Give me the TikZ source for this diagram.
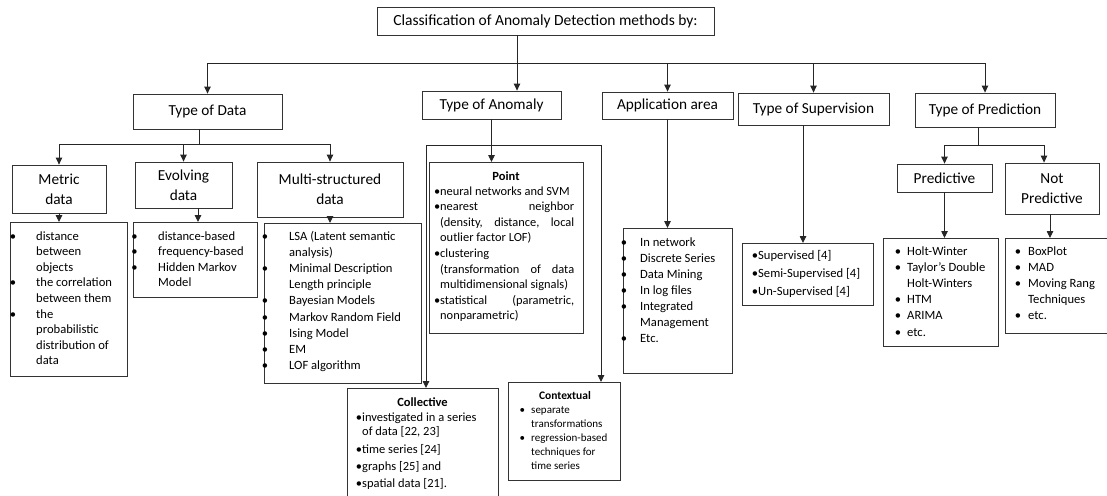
\documentclass[tikz,border=0pt]{standalone}
\usepackage{fontspec}
\setmainfont{Carlito}
\usetikzlibrary{arrows.meta}
\newlength\bgap
\newcommand\itm[1]{\par\noindent\llap{\textbullet\hspace*{\bgap}}#1}
\newcommand\lfont{\fontsize{12.6}{15.6}\selectfont}
\tikzset{
  box/.style={draw=black!80, line width=0.8pt, inner sep=0pt, align=center, font=\fontsize{15.3}{20}\selectfont},
  lbox/.style={draw=black!80, line width=0.8pt, inner sep=0pt, anchor=north west},
  ltext/.style={inner sep=0pt, anchor=base west},
  head/.style={inner sep=0pt, anchor=base, font=\bfseries\fontsize{12.5}{15}\selectfont},
  con/.style={line width=0.9pt, draw=black!85},
  arr/.style={con, -{Triangle[length=7pt,width=6.5pt]}},
}
\begin{document}
\begin{tikzpicture}[x=1pt,y=-1pt]
\useasboundingbox (0,0) rectangle (1107,495);
% level 0
\node[box, font=\fontsize{15.5}{20}\selectfont, minimum width=337pt, minimum height=28pt] (title) at (545.5,21) {Classification of Anomaly Detection methods by:};
% level 1
\node[box, minimum width=149pt, minimum height=35pt] (tdata) at (207.5,111.5) {Type of Data};
\node[box, minimum width=139pt, minimum height=28pt] (tanom) at (491.5,105) {Type of Anomaly};
\node[box, minimum width=131pt, minimum height=27pt] (tapp) at (667.5,105.5) {Application area};
\node[box, minimum width=151pt, minimum height=32pt] (tsup) at (813.5,109) {Type of Supervision};
\node[box, minimum width=140pt, minimum height=34pt] (tpred) at (985,110) {Type of Prediction};
% level 2
\node[box, minimum width=94pt, minimum height=48pt] (metric) at (59,189) {Metric\\data};
\node[box, minimum width=97pt, minimum height=46pt] (evolv) at (183.5,185) {Evolving\\data};
\node[box, minimum width=146pt, minimum height=55pt] (multi) at (330,189.5) {Multi-structured\\data};
\node[box, minimum width=95pt, minimum height=28pt] (predv) at (944.5,178) {Predictive};
\node[box, minimum width=94pt, minimum height=51pt] (npred) at (1052,188.5) {Not\\Predictive};
% lists
\node[lbox, minimum width=117pt, minimum height=154pt] (mlist) at (10,222) {};
\node[ltext] (mtext) at (36,240) {\parbox[t]{90pt}{\lfont\raggedright\setlength\bgap{20pt}%
\itm{distance\\between\\objects}\itm{the correlation\\between them}\itm{the\\probabilistic\\distribution of\\data}}};

\node[lbox, minimum width=124pt, minimum height=75pt] (elist) at (133,222) {};
\node[ltext] (etext) at (158,240) {\parbox[t]{95pt}{\lfont\raggedright\setlength\bgap{20.5pt}%
\itm{distance-based}\itm{frequency-based}\itm{Hidden Markov\\Model}}};

\node[lbox, minimum width=157pt, minimum height=160pt] (mulist) at (264,223) {};
\node[ltext] (mutext) at (289,240) {\parbox[t]{128pt}{\fontsize{12.6}{16.2}\selectfont\raggedright\setlength\bgap{21pt}%
\itm{LSA (Latent semantic\\analysis)}\itm{Minimal Description\\Length principle}\itm{Bayesian Models}\itm{Markov Random Field}\itm{Ising Model}\itm{EM}\itm{LOF algorithm}}};

\node[lbox, minimum width=154pt, minimum height=171pt] (point) at (429,162) {};
\node[head] (pointh) at (506,180) {Point};
\node[ltext] (ptext) at (440,195) {\parbox[t]{134pt}{\fontsize{12.4}{15.6}\selectfont\setlength\bgap{0pt}%
\itm{neural networks and SVM}\itm{nearest neighbor\linebreak (density, distance, local\linebreak outlier factor LOF)}\itm{clustering\newline (transformation of data\linebreak multidimensional signals)}\itm{statistical (parametric,\linebreak nonparametric)}}};

\node[lbox, minimum width=151pt, minimum height=110pt] (coll) at (347,388) {};
\node[head] (collh) at (422.5,406) {Collective};
\node[ltext] (ctext) at (362,421) {\parbox[t]{125pt}{\fontsize{12.5}{14.8}\selectfont\raggedright\setlength\parskip{2.5pt}\setlength\bgap{0pt}%
\itm{investigated in a series\\of data [22, 23]}\itm{time series [24]}\itm{graphs [25] and}\itm{spatial data [21].}}};

\node[lbox, minimum width=112pt, minimum height=98pt] (ctx) at (508,382) {};
\node[head, font=\bfseries\fontsize{11.5}{14}\selectfont] (ctxh) at (565,399) {Contextual};
\node[ltext] (xtext) at (531,413) {\parbox[t]{85pt}{\fontsize{11}{14}\selectfont\raggedright\setlength\bgap{6pt}%
\itm{separate\\transformations}\itm{regression-based\\techniques for\\time series}}};

\node[lbox, minimum width=109pt, minimum height=145pt] (alist) at (623,228) {};
\node[ltext] (atext) at (640,246) {\parbox[t]{90pt}{\fontsize{12.6}{16}\selectfont\raggedright\setlength\bgap{13pt}%
\itm{In network}\itm{Discrete Series}\itm{Data Mining}\itm{In log files}\itm{Integrated\\Management}\itm{Etc.}}};

\node[lbox, minimum width=131pt, minimum height=62pt] (slist) at (742,243) {};
\node[ltext] (stext) at (758,259) {\parbox[t]{112pt}{\fontsize{12.6}{18}\selectfont\raggedright\setlength\bgap{0pt}%
\itm{Supervised [4]}\itm{Semi-Supervised [4]}\itm{Un-Supervised [4]}}};

\node[lbox, minimum width=115pt, minimum height=108pt] (plist) at (883,238) {};
\node[ltext] (ptxt) at (907,255) {\parbox[t]{88pt}{\fontsize{12.6}{16.2}\selectfont\raggedright\setlength\bgap{6pt}%
\itm{Holt-Winter}\itm{Taylor’s Double\\Holt-Winters}\itm{HTM}\itm{ARIMA}\itm{etc.}}};

\node[lbox, minimum width=105pt, minimum height=95pt] (nlist) at (1005,238) {};
\node[ltext] (ntxt) at (1028,255) {\parbox[t]{78pt}{\fontsize{12.6}{16.2}\selectfont\raggedright\setlength\bgap{7pt}%
\itm{BoxPlot}\itm{MAD}\itm{Moving Rang\\Techniques}\itm{etc.}}};

% connectors level 0 -> 1
\coordinate (hub) at (517,63);
\draw[arr] (title.south -| hub) -- (tanom.north -| hub);
\draw[con] (tdata.north |- hub) -- (tpred.north |- hub);
\foreach \n in {tdata,tapp,tsup,tpred} \draw[arr] (\n.north |- hub) -- (\n.north);
% type of data
\coordinate (dhub) at (199,144);
\draw[con] (tdata.south -| dhub) -- (dhub);
\draw[con] (metric.north |- dhub) -- (multi.north |- dhub);
\foreach \n in {metric,evolv,multi} \draw[arr] (\n.north |- dhub) -- (\n.north);
\draw[arr] (metric.south) -- (metric.south |- mlist.north);
\coordinate (ex) at (198,0);
\draw[arr] (evolv.south -| ex) -- (elist.north -| ex);
\draw[arr] (multi.south) -- (multi.south |- mulist.north);
% type of anomaly
\coordinate (bl) at (426,145);
\coordinate (br) at (601,145);
\draw[con] (bl) -- (br);
\draw[arr] (tanom.south) -- (tanom.south |- point.north);
\draw[arr] (bl) -- (bl |- coll.north);
\draw[arr] (br) -- (br |- ctx.north);
% application, supervision
\draw[arr] (tapp.south) -- (tapp.south |- alist.north);
\coordinate (sx) at (803,0);
\draw[arr] (tsup.south -| sx) -- (slist.north -| sx);
% prediction
\coordinate (phub) at (978,145);
\coordinate (nx) at (1044,0);
\coordinate (nx2) at (1050,0);
\draw[con] (tpred.south -| phub) -- (phub);
\draw[con] (predv.north |- phub) -- (nx |- phub);
\draw[arr] (predv.north |- phub) -- (predv.north);
\draw[arr] (nx |- phub) -- (nx |- npred.north);
\draw[arr] (predv.south) -- (predv.south |- plist.north);
\draw[arr] (npred.south -| nx2) -- (nlist.north -| nx2);
\end{tikzpicture}
\end{document}
